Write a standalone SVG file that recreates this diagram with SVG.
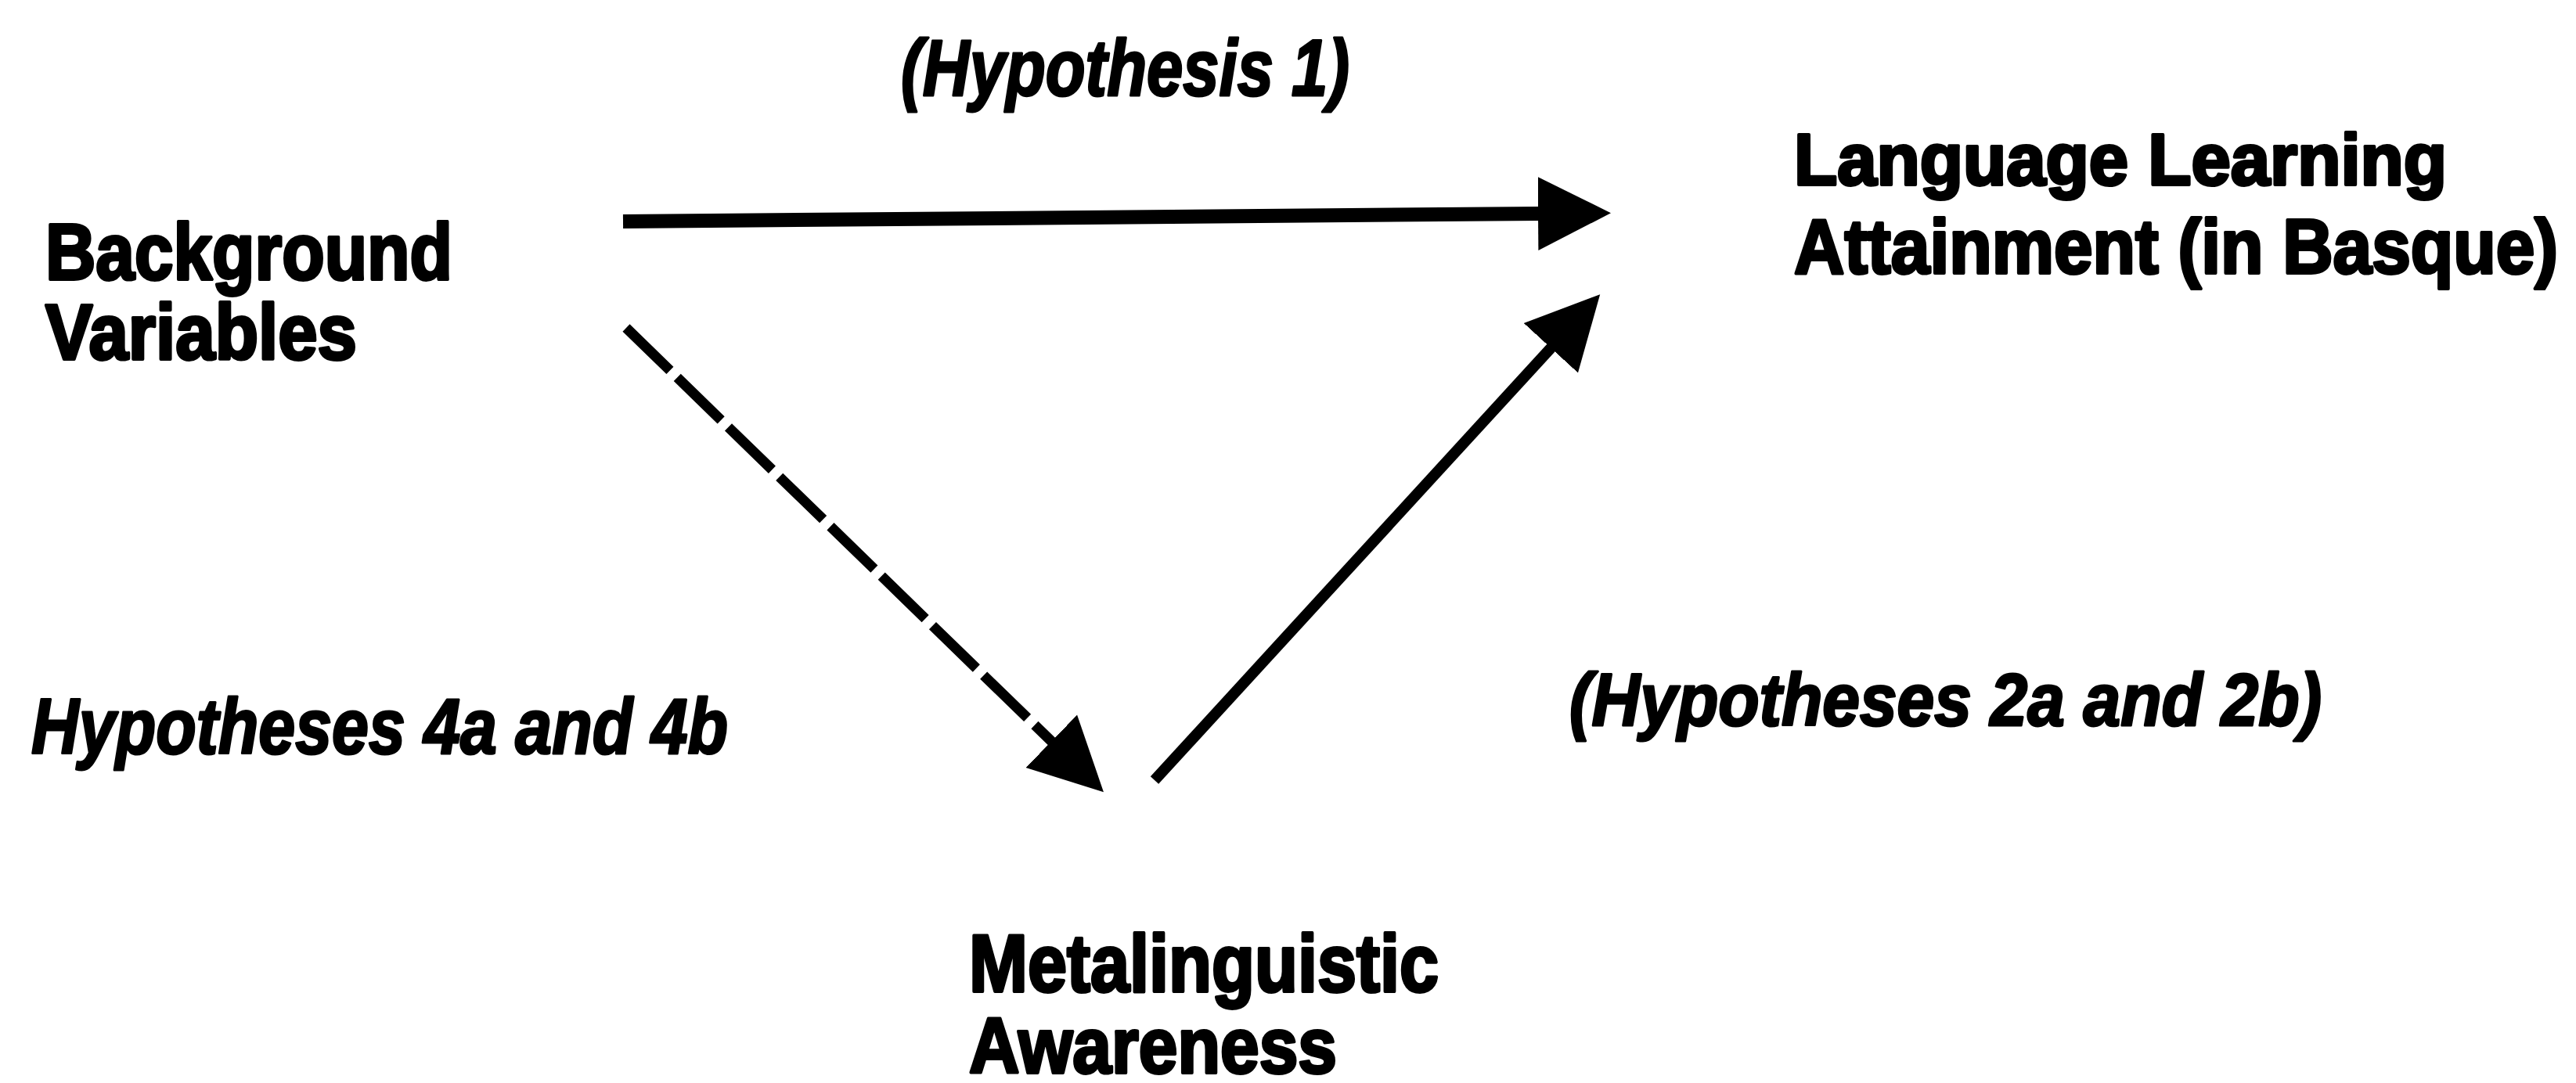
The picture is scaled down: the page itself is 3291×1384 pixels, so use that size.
<svg xmlns="http://www.w3.org/2000/svg" width="3291" height="1384" viewBox="0 0 3291 1384">
  <style>
    .lbl { font-family: "Liberation Sans", Arial, sans-serif; font-weight: bold; fill: #000; stroke: #000; stroke-width: 4; stroke-linejoin: round; }
    .hyp { font-family: "Liberation Sans", Arial, sans-serif; font-weight: bold; font-style: italic; fill: #000; stroke: #000; stroke-width: 3; stroke-linejoin: round; }
    .conn { fill: none; stroke: #000; stroke-linecap: butt; }
  </style>
  <defs>
    <marker id="arrow" markerUnits="userSpaceOnUse" markerWidth="94" markerHeight="96" viewBox="0 0 94 96" refX="1" refY="48" orient="auto">
      <path d="M0,1 L93,48 L0,95 Z" fill="#000"/>
    </marker>
  </defs>
  <rect width="3291" height="1384" fill="#fff"/>

  <g id="connectors">
    <path id="h1" class="conn" d="M796,283 L1966,273" stroke-width="18" marker-end="url(#arrow)"/>
    <path id="h4" class="conn" d="M800,419 L1344,948" stroke-width="13" stroke-dasharray="78 13" marker-end="url(#arrow)"/>
    <path id="h2" class="conn" d="M1475,997 L1982,444" stroke-width="14" marker-end="url(#arrow)"/>
  </g>

  <g id="node-background">
    <text class="lbl" x="58" y="357" font-size="102" textLength="520" lengthAdjust="spacingAndGlyphs">Background</text>
    <text class="lbl" x="58" y="459" font-size="100" textLength="398" lengthAdjust="spacingAndGlyphs">Variables</text>
  </g>

  <g id="node-attainment">
    <text class="lbl" x="2292" y="236" font-size="93" textLength="834" lengthAdjust="spacingAndGlyphs">Language Learning</text>
    <text class="lbl" x="2292" y="349" font-size="99" textLength="976" lengthAdjust="spacingAndGlyphs">Attainment (in Basque)</text>
  </g>

  <g id="node-metalinguistic">
    <text class="lbl" x="1238" y="1267" font-size="104" textLength="600" lengthAdjust="spacingAndGlyphs">Metalinguistic</text>
    <text class="lbl" x="1238" y="1371" font-size="100" textLength="470" lengthAdjust="spacingAndGlyphs">Awareness</text>
  </g>

  <g id="labels">
    <text class="hyp" x="1151" y="122" font-size="102" textLength="573" lengthAdjust="spacingAndGlyphs">(Hypothesis 1)</text>
    <text class="hyp" x="40" y="963" font-size="100" textLength="890" lengthAdjust="spacingAndGlyphs">Hypotheses 4a and 4b</text>
    <text class="hyp" x="2005" y="927" font-size="94" textLength="961" lengthAdjust="spacingAndGlyphs">(Hypotheses 2a and 2b)</text>
  </g>
</svg>
